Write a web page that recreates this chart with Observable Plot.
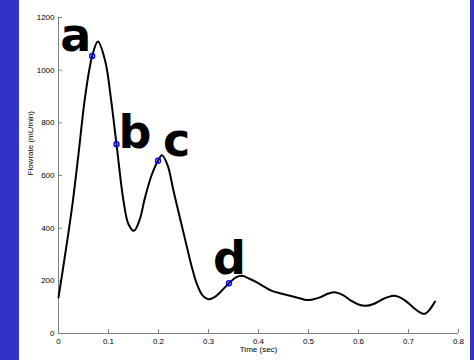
<!DOCTYPE html>
<html>
<head>
<meta charset="utf-8">
<script src="https://cdn.jsdelivr.net/npm/d3@7"></script>
<script src="https://cdn.jsdelivr.net/npm/@observablehq/plot@0.6"></script>
<style>
  html, body { margin: 0; padding: 0; background: #3232c8; width: 474px; height: 360px; overflow: hidden; }
  #panel { position: absolute; left: 19px; top: 0; width: 451px; height: 360px; background: #fff; }
  #chart { position: absolute; left: 0; top: 0; }
</style>
</head>
<body>
<div id="panel"></div>
<div id="chart"></div>
<script>
// Flowrate waveform (time in sec, flowrate in mL/min)
const time = [0, 0.0134, 0.027, 0.040, 0.053, 0.0674, 0.0788, 0.0934, 0.105, 0.116, 0.130, 0.140, 0.151, 0.162, 0.173, 0.186, 0.199, 0.207, 0.218, 0.230, 0.244, 0.257, 0.267, 0.277, 0.288, 0.300, 0.312, 0.323, 0.341, 0.355, 0.367, 0.382, 0.397, 0.412, 0.427, 0.445, 0.463, 0.480, 0.497, 0.510, 0.523, 0.540, 0.555, 0.570, 0.585, 0.600, 0.615, 0.630, 0.645, 0.660, 0.672, 0.685, 0.700, 0.715, 0.725, 0.733, 0.742, 0.753];
const flow = [137, 301, 478, 681, 896, 1054, 1109, 1035, 890, 719, 504, 415, 390, 430, 516, 600, 656, 677, 640, 542, 430, 327, 250, 187, 145, 130, 138, 156, 191, 213, 219, 208, 194, 177, 162, 152, 143, 135, 127, 130, 137, 152, 156, 145, 125, 110, 105, 112, 127, 139, 143, 135, 115, 90, 78, 75, 90, 121];

// Marked points a-d
const markLabels = ["a", "b", "c", "d"];
const markTime = [0.0674, 0.116, 0.199, 0.341];
const markFlow = [1054, 719, 656, 191];

const xTicks = [0, 0.1, 0.2, 0.3, 0.4, 0.5, 0.6, 0.7, 0.8];
const yTicks = [0, 200, 400, 600, 800, 1000, 1200];

const curve = time.map((t, i) => ({t, v: flow[i]}));
const marks = markLabels.map((l, i) => ({l, t: markTime[i], v: markFlow[i]}));
const offsets = {a: [-32, -5], b: [2, 4], c: [5, -5], d: [-16, -9]};

const W = 474, H = 360, mL = 58, mR = 16, mT = 17, mB = 27;
const innerW = W - mL - mR, innerH = H - mT - mB;
const axisColor = "#808080";
const font = "'Liberation Sans', Arial, sans-serif";

const chart = Plot.plot({
  width: W, height: H,
  marginLeft: mL, marginRight: mR, marginTop: mT, marginBottom: mB,
  style: {background: "transparent", fontFamily: font, fontSize: "8px", color: "black", overflow: "visible"},
  x: {domain: [0, 0.8]},
  y: {domain: [0, 1200]},
  marks: [
    Plot.axisX({ticks: xTicks, tickSize: 0, tickPadding: 5, tickFormat: d => String(d), label: null, fontSize: 8}),
    Plot.axisY({ticks: yTicks, tickSize: 0, tickPadding: 4, tickFormat: d => String(d), label: null, fontSize: 8}),
    Plot.tickX(xTicks, {x: d => d, insetTop: innerH - 4, stroke: axisColor}),
    Plot.tickY(yTicks, {y: d => d, insetRight: innerW - 4, stroke: axisColor}),
    Plot.ruleY([0], {stroke: axisColor}),
    Plot.ruleX([0], {stroke: axisColor}),
    Plot.line(curve, {x: "t", y: "v", curve: "catmull-rom", stroke: "black", strokeWidth: 2}),
    Plot.dot(marks, {x: "t", y: "v", r: 2.5, stroke: "#0000ff", strokeWidth: 1.4, fill: "none"}),
    ...marks.map(m => Plot.text([m], {x: "t", y: "v", text: "l", textAnchor: "start", lineAnchor: "bottom",
      dx: offsets[m.l][0], dy: offsets[m.l][1], fontSize: 46, fontWeight: "bold",
      fontFamily: "'DejaVu Sans', sans-serif", fill: "black"})),
    Plot.text(["Time (sec)"], {text: d => d, frameAnchor: "bottom", dy: 18.5, fontSize: 8, fill: "black"}),
    Plot.text(["Flowrate (mL/min)"], {text: d => d, frameAnchor: "left", dx: -28, rotate: -90, fontSize: 8, fill: "black"})
  ]
});
document.getElementById("chart").append(chart);
</script>
</body>
</html>
